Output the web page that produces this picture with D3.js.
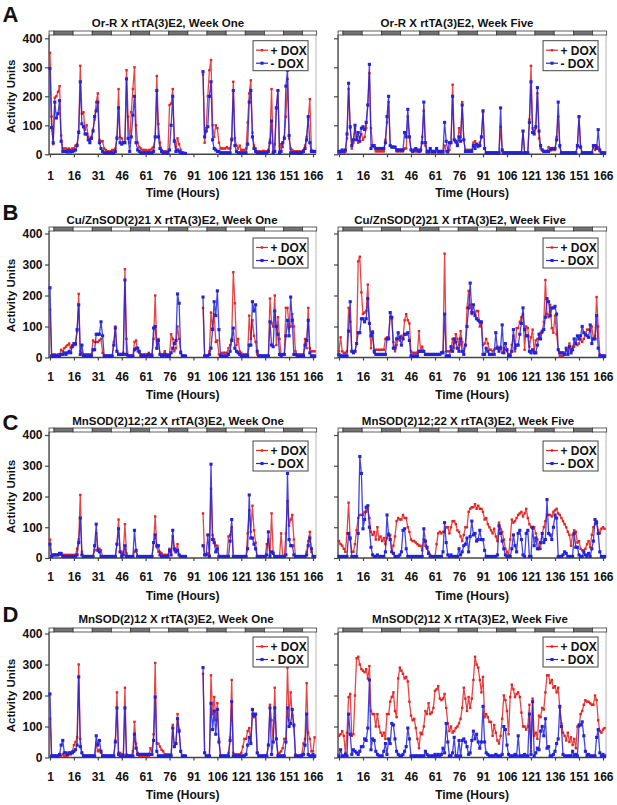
<!DOCTYPE html>
<html><head><meta charset="utf-8">
<script src="https://cdn.jsdelivr.net/npm/d3@7"></script>
<style>
body{margin:0;background:#fff}
svg{display:block}
text{font-family:"Liberation Sans",Arial,Helvetica,sans-serif;font-weight:bold;fill:#111}
</style>
</head><body><svg id="chart" width="617" height="805"></svg>
<script>
// ---------------- DATA ----------------
const hourTicks = [1,16,31,46,61,76,91,106,121,136,151,166];
const yTicks = [0,100,200,300,400];
const panelLetters = ["A","B","C","D"];
const titlesWeekOne = ["Or-R X rtTA(3)E2, Week One","Cu/ZnSOD(2)21 X rtTA(3)E2, Week One","MnSOD(2)12;22 X rtTA(3)E2, Week One","MnSOD(2)12 X rtTA(3)E2, Week One"];
const titlesWeekFive = ["Or-R X rtTA(3)E2, Week Five","Cu/ZnSOD(2)21 X rtTA(3)E2, Week Five","MnSOD(2)12;22 X rtTA(3)E2, Week Five","MnSOD(2)12 X rtTA(3)E2, Week Five"];
const legendLabels = ["+ DOX","- DOX"];
const darkPhaseStarts = [3.5,27.5,51.5,75.5,99.5,123.5,147.5];
const darkPhaseLength = 12;
const N = null;

// Panel A, Or-R, week one
const orrW1Plus = [
350,130,35,195,200,215,235,65,20,20,
20,18,20,15,20,20,30,35,80,305,
140,145,85,100,60,50,60,85,120,180,
210,50,45,45,20,15,10,10,10,15,
15,20,60,225,60,55,40,40,290,130,
40,145,225,300,100,40,25,20,15,15,
15,12,15,15,20,25,60,270,105,40,
15,10,10,10,12,170,175,225,50,25,
55,35,15,5,5,3,N,N,N,N,
N,N,N,N,N,N,275,40,90,200,
290,325,100,60,100,90,40,20,20,20,
20,25,20,20,55,250,55,30,20,30,
15,15,15,20,110,210,255,75,30,20,
10,10,10,10,12,10,10,15,50,225,
10,35,160,220,10,35,25,60,130,260,
55,20,15,10,10,10,10,10,10,15,
30,60,120,190,15,10,10];
const orrW1Minus = [
296,92,40,180,125,140,185,45,10,10,
10,8,12,8,10,12,15,30,75,250,
105,95,70,70,50,40,55,80,130,150,
180,40,20,10,5,5,5,5,5,5,
5,10,55,160,40,35,40,40,260,55,
10,60,135,200,40,15,10,5,5,5,
5,5,5,5,5,10,60,220,60,20,
10,5,5,5,5,15,100,200,45,10,
15,10,5,5,3,3,N,N,N,N,
N,N,N,N,N,N,285,60,80,95,
200,250,50,20,15,10,10,5,5,5,
5,5,5,5,50,220,30,10,5,5,
5,5,5,5,35,180,220,60,20,10,
5,5,5,5,5,5,5,10,40,115,
5,10,160,220,5,10,40,55,235,290,
65,5,5,5,5,5,5,5,5,10,
20,50,130,40,10,10,10];
// Panel A, Or-R, week five
const orrW5Plus = [
5,5,8,5,8,55,225,90,20,40,
90,60,40,60,70,50,60,90,170,280,
90,30,25,10,10,10,10,10,10,50,
110,180,30,25,25,25,10,10,10,10,
10,20,20,130,60,15,10,10,10,10,
10,10,60,150,30,5,5,20,5,5,
5,20,5,5,5,5,30,10,5,15,
40,240,50,40,35,90,60,180,50,15,
15,15,15,15,40,45,30,25,40,60,
145,20,5,5,5,5,5,5,5,5,
5,95,10,5,5,5,5,5,5,5,
5,5,5,5,5,80,5,5,5,120,
305,90,80,90,210,55,20,15,10,10,
10,25,20,15,15,15,60,130,25,5,
5,5,5,5,5,5,5,5,5,25,
130,25,5,5,5,5,5,5,5,25,
15,30,25,10,5,5,5];
const orrW5Minus = [
10,10,15,10,15,70,245,95,30,50,
100,50,75,45,90,95,85,110,170,310,
20,30,30,20,20,20,20,20,20,40,
130,200,30,25,25,25,15,15,15,15,
15,75,60,155,60,15,10,15,20,15,
10,15,40,180,40,10,10,20,10,10,
10,20,10,10,10,10,110,45,10,40,
40,200,50,45,30,60,45,170,50,10,
10,10,10,10,30,20,35,30,30,60,
150,20,5,5,5,5,5,5,5,5,
5,160,15,5,5,5,5,5,5,5,
5,5,5,5,5,80,5,5,5,110,
250,75,70,95,230,80,30,15,10,10,
10,10,15,20,20,20,50,180,30,5,
5,5,5,5,5,5,5,5,5,30,
130,25,5,5,5,5,5,5,5,30,
30,20,85,15,5,5,5];

// Panel B, Cu/ZnSOD(2)21, week one
const cuznW1Plus = [
155,5,10,10,8,10,10,25,20,30,
35,40,45,30,40,40,40,85,205,20,
15,10,10,10,10,10,10,55,50,50,
50,55,60,15,5,5,5,5,5,5,
50,100,20,10,10,10,15,285,60,5,
5,5,5,50,55,20,15,10,10,10,
10,10,15,10,10,60,200,30,60,10,
10,10,20,10,10,10,75,60,20,30,
100,60,20,5,5,5,N,N,N,N,
N,N,N,N,N,N,160,5,5,5,
20,145,95,140,50,55,10,5,15,15,
15,15,30,40,60,275,175,40,60,20,
15,10,10,10,10,135,60,120,70,50,
10,5,5,5,5,5,5,5,190,110,
100,200,40,130,60,5,10,10,160,160,
95,100,140,100,20,10,10,10,10,10,
60,30,160,30,20,20,20];
const cuznW1Minus = [
225,5,5,5,5,5,5,10,10,15,
10,15,20,15,35,45,45,90,170,10,
40,5,5,5,5,5,5,25,25,75,
75,75,115,70,5,5,5,5,5,5,
40,95,20,10,10,10,10,250,10,5,
5,5,5,25,30,30,20,5,5,5,
5,5,10,5,5,95,100,30,55,10,
5,5,10,5,5,5,15,30,45,55,
205,175,15,5,5,5,N,N,N,N,
N,N,N,N,N,N,195,5,5,5,
10,30,90,180,135,215,90,5,5,5,
5,5,10,20,55,95,30,20,15,10,
5,5,5,5,5,40,40,180,150,170,
20,5,5,5,5,5,5,5,115,40,
35,150,100,75,10,5,10,10,70,120,
70,195,120,10,10,5,5,5,5,5,
40,55,120,15,5,5,5];
// Panel B, week five
const cuznW5Plus = [
20,65,20,15,15,20,160,115,20,20,
20,45,310,325,210,140,145,150,235,110,
30,85,15,25,25,25,25,25,25,60,
65,65,130,125,50,20,40,60,55,70,
60,120,140,120,110,20,15,15,15,15,
85,20,35,20,10,10,10,10,10,10,
10,10,10,10,15,20,335,20,20,20,
25,60,30,75,60,40,85,50,20,40,
160,215,170,140,145,140,150,150,100,110,
40,45,60,45,25,25,20,25,30,35,
30,35,15,30,25,20,10,10,40,70,
20,95,95,115,130,140,25,100,95,35,
65,90,20,55,60,60,80,80,115,250,
140,130,170,95,80,135,75,25,5,5,
5,10,25,20,45,20,35,35,45,40,
45,60,50,60,75,90,90,85,100,60,
70,195,100,10,5,5,5];
const cuznW5Minus = [
10,5,5,5,5,5,85,180,20,15,
20,45,80,80,125,125,115,125,190,110,
70,80,20,10,10,10,10,10,10,10,
60,60,145,130,30,30,60,80,65,40,
60,75,75,80,55,5,5,5,5,5,
20,20,20,20,10,10,10,10,10,10,
10,10,10,10,15,15,140,5,5,5,
35,20,60,50,30,20,60,20,10,40,
100,160,240,145,170,135,125,120,115,115,
10,10,30,20,10,10,10,10,80,30,
20,30,105,15,45,25,5,5,20,90,
30,40,40,75,110,160,90,70,70,20,
15,25,15,15,40,75,60,85,90,130,
190,180,135,160,160,165,140,25,15,15,
15,10,30,10,35,15,25,60,45,70,
60,70,100,80,75,70,65,105,45,60,
60,135,30,5,5,5,5];

// Panel C, MnSOD(2)12;22, week one
const mn1222W1Plus = [
60,5,10,10,10,10,10,10,10,10,
10,10,10,10,10,10,10,30,60,205,
20,5,5,5,5,5,5,5,25,80,
30,30,25,5,5,5,5,5,5,5,
5,5,45,125,20,15,20,110,15,5,
5,5,5,20,25,5,5,5,5,5,
5,5,5,5,5,50,135,35,20,20,
15,10,10,10,10,30,20,70,25,20,
45,10,5,5,5,5,N,N,N,N,
N,N,N,N,N,N,145,10,10,15,
10,225,75,60,40,40,5,5,5,5,
5,5,70,75,100,5,5,5,5,5,
5,5,5,5,80,155,85,170,90,50,
5,5,5,5,5,5,45,60,5,145,
20,5,5,5,5,80,5,5,80,185,
105,125,140,60,5,5,5,5,5,5,
5,20,55,85,20,5,5];
const mn1222W1Minus = [
45,5,10,10,10,10,15,15,5,5,
5,5,5,5,5,5,5,10,50,130,
10,5,5,5,5,5,5,5,40,110,
25,20,5,5,5,5,5,5,5,5,
5,5,45,95,20,5,10,40,5,5,
5,5,5,90,25,5,5,5,5,5,
5,5,5,5,5,50,75,40,40,10,
5,5,5,5,5,25,10,90,30,20,
25,10,5,5,5,5,N,N,N,N,
N,N,N,N,N,N,40,10,10,75,
5,305,60,50,20,30,5,5,5,5,
5,5,5,55,125,5,5,5,5,5,
5,5,5,5,30,205,65,65,45,30,
5,5,5,5,5,5,10,85,5,20,
15,5,5,5,5,5,5,5,10,275,
60,40,40,10,5,5,5,5,5,5,
5,10,40,65,30,5,5];
// Panel C, week five
const mn1222W5Plus = [
55,45,40,30,20,80,180,60,20,20,
45,90,130,140,140,140,150,150,160,130,
85,75,85,60,100,60,70,55,65,45,
65,80,75,20,40,70,120,130,125,125,
140,130,130,100,85,60,55,55,50,45,
40,40,25,60,40,30,20,10,5,5,
5,45,80,85,80,85,85,100,100,80,
100,120,120,110,90,85,70,55,75,100,
100,150,160,165,165,175,160,170,160,160,
150,125,130,110,100,90,80,95,70,55,
115,95,85,60,30,20,10,60,125,115,
120,130,140,145,150,135,145,160,130,110,
100,95,100,80,60,30,30,80,100,120,
140,140,140,135,150,155,160,145,140,130,
120,110,100,85,75,40,75,90,85,50,
55,30,25,25,30,45,55,35,75,100,
110,120,90,80,95,100,95];
const mn1222W5Minus = [
5,5,5,5,5,5,80,65,5,5,
5,5,80,330,275,95,125,165,170,100,
35,10,5,5,10,5,5,5,5,20,
140,75,60,20,15,5,5,5,10,20,
90,95,30,5,5,5,5,5,5,5,
5,5,5,95,55,35,15,5,5,5,
5,5,5,5,5,20,115,50,10,5,
10,5,5,5,5,30,10,20,40,45,
65,20,70,120,75,80,55,60,90,60,
60,25,5,5,5,5,5,5,5,10,
105,80,55,30,10,5,5,5,30,75,
40,20,80,90,60,10,5,80,90,5,
5,100,40,65,30,30,50,80,50,60,
190,80,75,60,100,140,130,5,5,5,
10,20,15,5,5,5,5,80,35,35,
10,5,5,20,10,5,15,5,30,55,
125,115,80,20,5,5,5];

// Panel D, MnSOD(2)12, week one
const mn12W1Plus = [
125,5,5,5,5,5,5,5,10,5,
5,5,10,10,20,40,50,65,300,60,
15,5,5,5,5,5,5,5,5,45,
20,25,15,5,5,5,5,5,5,5,
5,55,210,15,15,10,10,225,10,5,
5,5,20,115,45,15,5,5,5,5,
5,5,5,30,20,75,305,45,45,35,
25,20,10,10,10,10,10,105,35,45,
140,90,20,5,5,5,N,N,N,N,
N,N,N,N,N,N,270,15,5,5,
5,265,140,195,120,175,60,5,5,5,
5,5,15,65,250,15,10,10,10,10,
15,35,60,60,85,95,50,140,130,140,
15,5,5,5,5,5,5,40,170,120,
50,225,60,10,15,20,30,60,60,290,
120,210,135,100,10,5,5,5,10,45,
60,240,80,60,20,20,65];
const mn12W1Minus = [
205,5,5,5,5,5,10,40,55,15,
15,10,15,15,15,20,25,40,260,35,
15,5,5,5,5,5,5,5,5,70,
40,55,20,5,5,5,5,5,5,5,
5,50,160,10,5,5,5,160,5,5,
5,5,5,75,30,10,10,10,10,10,
10,10,10,10,10,55,195,20,5,5,
5,5,5,5,5,5,5,95,35,45,
125,85,20,5,5,5,N,N,N,N,
N,N,N,N,N,N,290,15,5,5,
5,175,90,150,75,155,50,5,5,5,
5,5,5,55,180,5,5,5,5,5,
5,5,5,10,40,65,45,155,135,140,
15,5,5,5,5,5,5,40,160,10,
50,160,60,5,5,5,5,5,50,160,
100,110,155,105,5,5,5,5,5,10,
40,140,10,5,5,10,5];
// Panel D, week five
const mn12W5Plus = [
70,75,85,70,15,80,195,205,70,75,
200,320,325,300,285,280,275,285,255,295,
150,140,140,100,140,100,80,70,80,60,
140,140,180,195,210,150,130,255,290,280,
270,255,260,245,180,135,120,125,95,60,
30,80,75,100,150,140,175,140,145,160,
215,220,230,190,185,190,205,160,110,85,
100,80,85,95,100,110,125,160,225,190,
150,195,160,190,250,325,300,290,250,210,
260,130,140,130,115,115,70,105,80,55,
45,70,125,200,185,150,75,195,235,220,
195,205,210,195,145,100,100,90,100,170,
20,190,70,80,60,135,130,160,155,210,
265,265,240,250,225,230,210,225,160,110,
80,70,55,80,50,65,40,60,30,100,
100,140,150,170,185,180,180,175,170,170,
200,185,120,85,80,90,95];
const mn12W5Minus = [
5,25,5,5,10,5,140,75,10,25,
20,15,10,20,35,35,60,55,95,250,
25,60,55,20,10,5,5,5,20,45,
10,60,45,110,105,60,20,10,5,5,
10,20,35,95,60,5,5,5,5,5,
5,5,5,5,20,10,5,5,5,5,
10,5,10,5,10,30,15,110,50,5,
5,15,65,5,5,55,5,55,60,50,
35,10,15,55,85,60,75,50,30,50,
165,50,15,10,5,5,5,5,10,5,
5,5,10,100,90,40,10,5,5,5,
10,5,70,5,5,5,10,5,5,140,
10,180,5,15,30,25,85,100,70,125,
30,35,5,5,10,20,45,60,165,100,
10,5,5,5,5,5,20,5,10,5,
105,105,115,70,20,5,10,5,5,5,
5,65,90,15,5,10,5];

// ---------------- LAYOUT ----------------
const panels = [
  [orrW1Plus, orrW1Minus, orrW5Plus, orrW5Minus],
  [cuznW1Plus, cuznW1Minus, cuznW5Plus, cuznW5Minus],
  [mn1222W1Plus, mn1222W1Minus, mn1222W5Plus, mn1222W5Minus],
  [mn12W1Plus, mn12W1Minus, mn12W5Plus, mn12W5Minus]
];
const rows = [
  {y0:154.3, y400:38.3, barTop:31, titleBase:26.5, tickBase:179.5, timeBase:197, letterBase:21.7, legTop:40.7, titleCx:[168,457]},
  {y0:357.5, y400:233.5, barTop:227, titleBase:224, tickBase:380.5, timeBase:399, letterBase:220, legTop:238, titleCx:[172,460]},
  {y0:558, y400:435, barTop:428, titleBase:425, tickBase:581, timeBase:600, letterBase:430, legTop:441, titleCx:[178,468]},
  {y0:757.5, y400:633.5, barTop:628, titleBase:622.5, tickBase:780.5, timeBase:798.5, letterBase:621.7, legTop:637, titleCx:[176,470]}
];
const cols = [{x1:50, x166:313}, {x1:339, x166:603}];
const RED = "#e32424", BLUE = "#2323d8";
const svg = d3.select("#chart");

rows.forEach((r, ri) => {
  // letter
  svg.append("text").attr("x", 2.5).attr("y", r.letterBase).style("font-size", "22px").text(panelLetters[ri]);
  // y label
  svg.append("text")
    .attr("transform", `translate(14.5,${(r.y0 + r.y400) / 2}) rotate(-90)`)
    .attr("text-anchor", "middle").style("font-size", "11.5px").text("Activity Units");

  cols.forEach((c, ci) => {
    const k = (c.x166 - c.x1) / 165;
    const dom = [0.4, 167.9];
    const x = d3.scaleLinear().domain(dom).range([c.x1 + (dom[0] - 1) * k, c.x1 + (dom[1] - 1) * k]);
    const y = d3.scaleLinear().domain([0, 400]).range([r.y0, r.y400]);
    const L = x(dom[0]), R = x(dom[1]);
    const g = svg.append("g");

    // right border
    g.append("line").attr("x1", R).attr("x2", R).attr("y1", r.barTop + 4).attr("y2", r.y0)
      .attr("stroke", "#b5b5b5").attr("stroke-width", 1);

    // light/dark bar
    const segs = [];
    let prev = dom[0];
    darkPhaseStarts.forEach(s => {
      segs.push({a: prev, b: s, dark: false});
      segs.push({a: s, b: s + darkPhaseLength, dark: true});
      prev = s + darkPhaseLength;
    });
    segs.push({a: prev, b: dom[1] + 0.4, dark: false});
    g.selectAll(null).data(segs).join("rect")
      .attr("x", d => x(d.a)).attr("width", d => x(d.b) - x(d.a))
      .attr("y", r.barTop).attr("height", 4)
      .attr("fill", d => d.dark ? "#747474" : "#fff")
      .attr("stroke", "#3a3a3a").attr("stroke-width", 0.8);

    // axes
    const ya = d3.axisLeft(y).tickValues(yTicks).tickSize(4).tickSizeOuter(0).tickPadding(2.5);
    if (ci === 1) ya.tickFormat("");
    const yg = g.append("g").attr("transform", `translate(${L},0)`).call(ya);
    yg.select(".domain").remove();
    yg.selectAll("line").attr("stroke", "#444").attr("stroke-width", 1.2);
    yg.selectAll("text").style("font-size", "12px").attr("fill", "#111")
      .style("font-family", '"Liberation Sans",Arial,sans-serif').style("font-weight", "bold");
    g.append("line").attr("x1", L).attr("x2", L).attr("y1", r.barTop + 4).attr("y2", r.y0 + 0.6)
      .attr("stroke", "#444").attr("stroke-width", 1.4);

    const xa = d3.axisBottom(x).tickValues(hourTicks).tickSize(3).tickSizeOuter(0)
      .tickPadding(r.tickBase - r.y0 - 3 - 8.5);
    const xg = g.append("g").attr("transform", `translate(0,${r.y0})`).call(xa);
    xg.select(".domain").remove();
    xg.selectAll("line").attr("stroke", "#444").attr("stroke-width", 1.2);
    xg.selectAll("text").style("font-size", "12px").attr("fill", "#111")
      .style("font-family", '"Liberation Sans",Arial,sans-serif').style("font-weight", "bold");
    g.append("line").attr("x1", L).attr("x2", R).attr("y1", r.y0).attr("y2", r.y0)
      .attr("stroke", "#444").attr("stroke-width", 1.4);

    // series
    const plus = panels[ri][ci * 2], minus = panels[ri][ci * 2 + 1];
    const line = d3.line().defined(d => d != null).x((d, i) => x(i + 1)).y(d => y(d));
    const series = [
      {data: plus, color: RED, sz: 2.4},
      {data: minus, color: BLUE, sz: 3.1}
    ];
    series.forEach(s => {
      g.append("path").attr("d", line(s.data)).attr("fill", "none")
        .attr("stroke", s.color).attr("stroke-width", 1.3).attr("stroke-opacity", 0.85)
        .attr("stroke-linejoin", "round");
      const pts = s.data.map((v, i) => ({v, h: i + 1})).filter(p => p.v != null);
      g.selectAll(null).data(pts).join("rect")
        .attr("x", p => x(p.h) - s.sz / 2).attr("y", p => y(p.v) - s.sz / 2)
        .attr("width", s.sz).attr("height", s.sz).attr("fill", s.color);
    });

    // title
    svg.append("text").attr("x", r.titleCx[ci]).attr("y", r.titleBase).attr("text-anchor", "middle")
      .style("font-size", "11.5px").text(ci === 0 ? titlesWeekOne[ri] : titlesWeekFive[ri]);
    // time label
    svg.append("text").attr("x", (L + R) / 2).attr("y", r.timeBase).attr("text-anchor", "middle")
      .style("font-size", "12px").text("Time (Hours)");

    // legend
    const lw = 55, lh = 30, lx = R - 8 - lw, ly = r.legTop;
    const lg = svg.append("g");
    lg.append("rect").attr("x", lx).attr("y", ly).attr("width", lw).attr("height", lh)
      .attr("fill", "#fff").attr("stroke", "#444").attr("stroke-width", 1);
    series.forEach((s, si) => {
      const cy = ly + 9.5 + si * 13;
      lg.append("line").attr("x1", lx + 3).attr("x2", lx + 15).attr("y1", cy).attr("y2", cy)
        .attr("stroke", s.color).attr("stroke-width", 1.2);
      lg.append("rect").attr("x", lx + 9 - s.sz / 2).attr("y", cy - s.sz / 2)
        .attr("width", s.sz).attr("height", s.sz).attr("fill", s.color);
      lg.append("text").attr("x", lx + 17.5).attr("y", cy).attr("dy", "0.36em")
        .style("font-size", "12px").text(legendLabels[si]);
    });
  });
});
</script>
</body></html>
